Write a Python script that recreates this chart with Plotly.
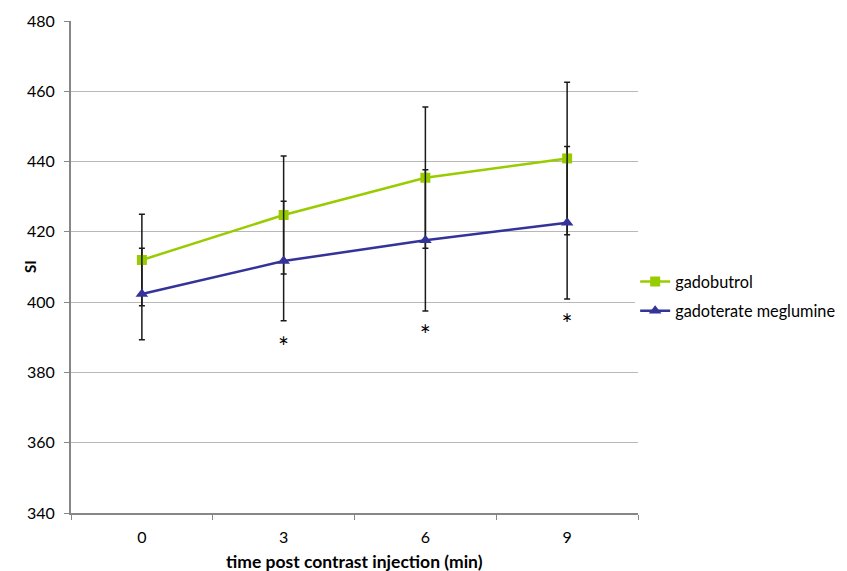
import plotly.graph_objects as go

times = ["0", "3", "6", "9"]
gadobutrol = [412.0, 424.8, 435.4, 440.9]
gadobutrol_err = [13.0, 16.8, 20.1, 21.7]
gadoterate = [402.3, 411.7, 417.6, 422.6]
gadoterate_err = [13.0, 17.0, 20.1, 21.7]
star_times = ["3", "6", "9"]
star_y = [386.2, 389.6, 392.8]

font = "Lato, 'Open Sans', sans-serif"

fig = go.Figure()
fig.add_trace(go.Scatter(
    x=times, y=gadobutrol, name="gadobutrol", mode="lines+markers",
    legendgroup="a",
    line=dict(color="#99CC00", width=2.5),
    marker=dict(symbol="square", size=10, color="#99CC00"),
    error_y=dict(type="data", array=gadobutrol_err, visible=True,
                 color="#1a1a1a", thickness=1.5, width=3),
))
fig.add_trace(go.Scatter(
    x=times, y=gadoterate, name="gadoterate meglumine", mode="lines+markers",
    legendgroup="b",
    line=dict(color="#333399", width=2.5),
    marker=dict(symbol="triangle-up", size=11, color="#333399"),
    error_y=dict(type="data", array=gadoterate_err, visible=True,
                 color="#1a1a1a", thickness=1.5, width=3),
))
fig.add_trace(go.Scatter(
    x=star_times, y=star_y, mode="text", text=["*"] * len(star_times),
    textfont=dict(family=font, size=26, color="#000000"),
    showlegend=False, hoverinfo="skip",
))

fig.add_annotation(
    text="<b>SI</b>", xref="paper", yref="paper", x=-0.0723, y=0.5,
    xanchor="center", yanchor="middle", textangle=-90, showarrow=False,
    font=dict(family=font, size=15, color="#000000"),
)
fig.add_annotation(
    text="<b>time post contrast injection (min)</b>", xref="paper",
    yref="paper", x=0.5, y=-0.0976, xanchor="center", yanchor="middle",
    showarrow=False, font=dict(family=font, size=17.5, color="#000000"),
)

# the page body has an 8px default margin, so the figure is offset by 8px
fig.update_layout(
    width=839, height=563,
    margin=dict(l=63, r=209, t=13, b=58, autoexpand=False),
    plot_bgcolor="white", paper_bgcolor="white",
    font=dict(family=font, size=16, color="#000000"),
    showlegend=True,
    legend=dict(x=0.995, y=0.44, xanchor="left", yanchor="middle",
                itemwidth=30, font=dict(size=16.3), tracegroupgap=5,
                traceorder="grouped"),
    xaxis=dict(
        type="category", range=[-0.5, 3.5], tickson="boundaries",
        ticks="outside", ticklen=5, automargin=False, ticklabelstandoff=9,
        tickcolor="#878787", showline=True, linecolor="#878787", linewidth=2,
        showgrid=False,
    ),
    yaxis=dict(
        range=[340, 480], dtick=20, ticks="outside", ticklen=5,
        automargin=False, ticklabelstandoff=6,
        tickcolor="#878787", showline=True, linecolor="#878787", linewidth=2,
        showgrid=True, gridcolor="#b8b8b8", gridwidth=1, zeroline=False,
    ),
)

fig.write_html("out.html")
